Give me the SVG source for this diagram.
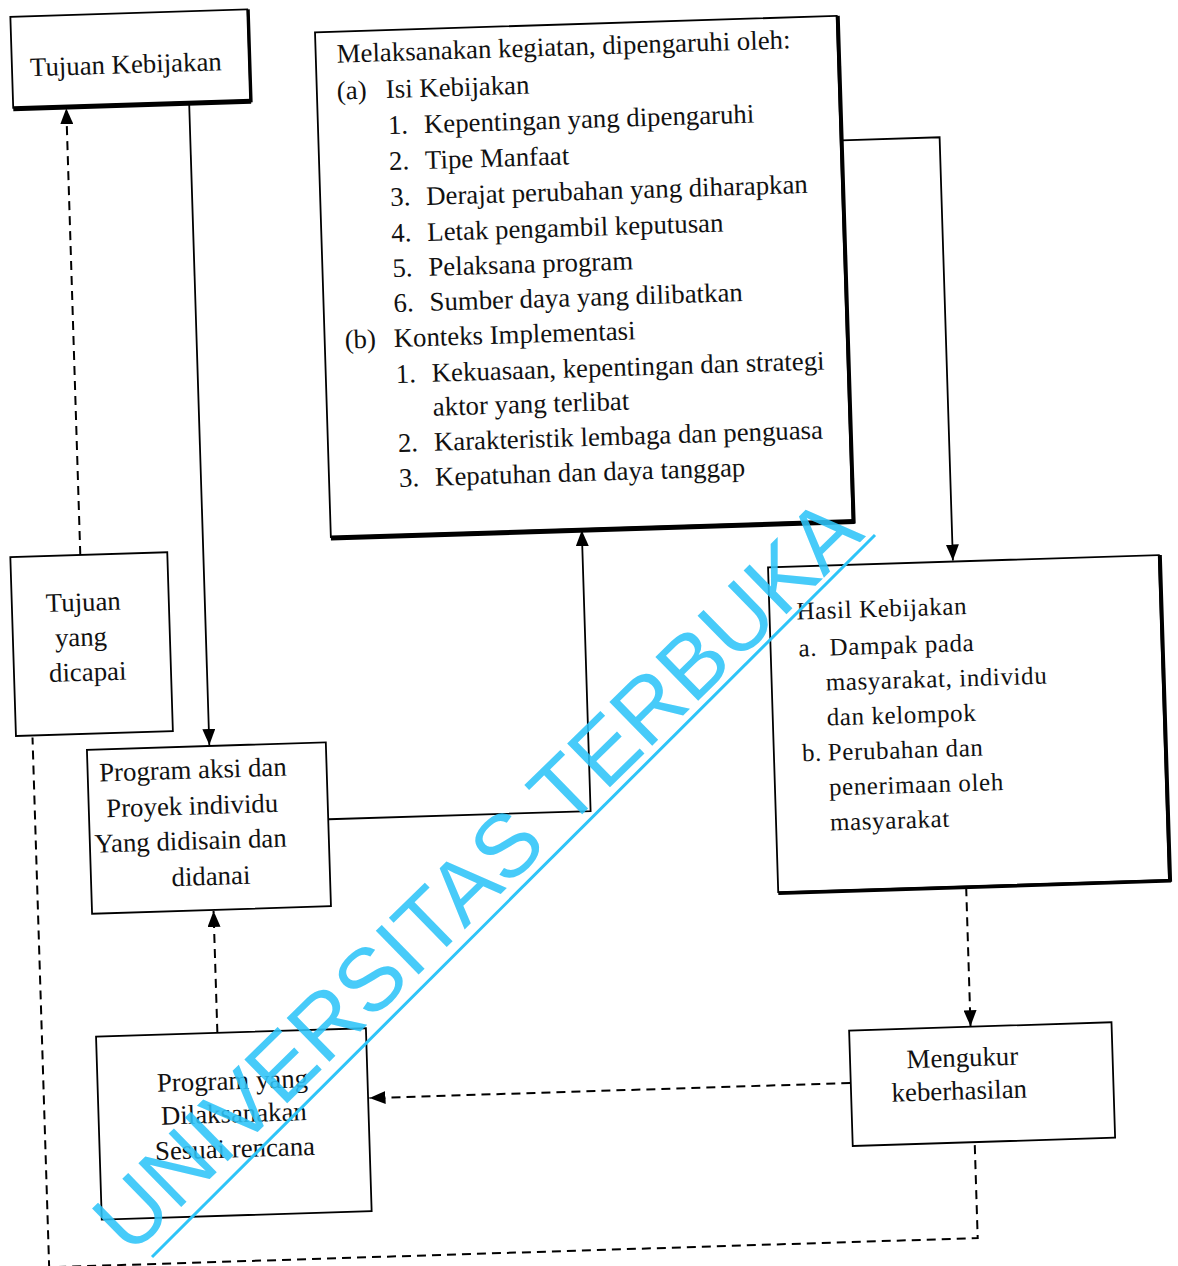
<svg xmlns="http://www.w3.org/2000/svg" width="1178" height="1266" viewBox="0 0 1178 1266">
<style>
.box{fill:#fff;stroke:#000;stroke-width:1.8}
.sh{stroke:#000;fill:none}
.t{font-family:"Liberation Serif","Times New Roman",serif;font-size:26.8px;fill:#111}
.th{font-family:"Liberation Serif","Times New Roman",serif;font-size:25px;fill:#111;letter-spacing:0.6px}
.c{fill:none;stroke:#000;stroke-width:1.8}
.d{fill:none;stroke:#000;stroke-width:2;stroke-dasharray:9 6}
.wm{font-family:"Liberation Sans",Arial,sans-serif;font-size:89px;fill:#2EC4F8;fill-opacity:0.88}
</style>
<defs>
<marker id="ah" markerUnits="userSpaceOnUse" markerWidth="16" markerHeight="13" refX="16" refY="6.5" orient="auto">
<path d="M0,0 L16,6.5 L0,13 z" fill="#000"/>
</marker>
</defs>
<rect width="1178" height="1266" fill="#fff"/>
<g transform="rotate(-1.8 589 633)">
<g id="connectors">
<line class="c" x1="206" y1="91" x2="206" y2="733" marker-end="url(#ah)"/>
<line class="d" x1="83" y1="539" x2="83" y2="92" marker-end="url(#ah)"/>
<polyline class="c" points="323,811 585,811 585,530" marker-end="url(#ah)"/>
<polyline class="c" points="857,148.5 955,148.5 955,572" marker-end="url(#ah)"/>
<line class="d" x1="958" y1="884" x2="958" y2="1038" marker-end="url(#ah)"/>
<line class="d" x1="836" y1="1091" x2="355" y2="1091" marker-end="url(#ah)"/>
<line class="d" x1="205" y1="1021" x2="205" y2="899" marker-end="url(#ah)"/>
<polyline class="d" points="958.5,1142 958.5,1250 29.5,1250 29.5,720"/>
</g>
<g id="n1">
<rect class="box" x="30" y="-1" width="237" height="91"/>
<line class="sh" x1="30" y1="91" x2="268" y2="91" stroke-width="5"/>
<line class="sh" x1="268" y1="-1" x2="268" y2="92" stroke-width="3"/>
<text class="t" x="48" y="59">Tujuan Kebijakan</text>
</g>
<g id="n2">
<rect class="box" x="334" y="24" width="522" height="505"/>
<line class="sh" x1="334" y1="530" x2="858" y2="530" stroke-width="5"/>
<line class="sh" x1="857" y1="24" x2="857" y2="532" stroke-width="4"/>
<text class="t" x="355" y="55">Melaksanakan kegiatan, dipengaruhi oleh:</text>
<text class="t" x="354" y="92">(a)</text><text class="t" x="403" y="92">Isi Kebijakan</text>
<text class="t" x="404" y="128">1.</text><text class="t" x="440" y="128">Kepentingan yang dipengaruhi</text>
<text class="t" x="404" y="164">2.</text><text class="t" x="440" y="164">Tipe Manfaat</text>
<text class="t" x="404" y="200">3.</text><text class="t" x="440" y="200">Derajat perubahan yang diharapkan</text>
<text class="t" x="404" y="236">4.</text><text class="t" x="440" y="236">Letak pengambil keputusan</text>
<text class="t" x="404" y="271">5.</text><text class="t" x="440" y="271">Pelaksana program</text>
<text class="t" x="404" y="306">6.</text><text class="t" x="440" y="306">Sumber daya yang dilibatkan</text>
<text class="t" x="354" y="341">(b)</text><text class="t" x="403" y="341">Konteks Implementasi</text>
<text class="t" x="404" y="377">1.</text><text class="t" x="440" y="377">Kekuasaan, kepentingan dan strategi</text>
<text class="t" x="440" y="411">aktor yang terlibat</text>
<text class="t" x="404" y="446">2.</text><text class="t" x="440" y="446">Karakteristik lembaga dan penguasa</text>
<text class="t" x="404" y="481">3.</text><text class="t" x="440" y="481">Kepatuhan dan daya tanggap</text>
</g>
<g id="n3">
<rect class="box" x="13" y="539" width="157" height="179"/>
<text class="t" x="47" y="595">Tujuan</text>
<text class="t" x="55" y="630">yang</text>
<text class="t" x="48" y="665">dicapai</text>
</g>
<g id="n4">
<rect class="box" x="83.5" y="734" width="239" height="164"/>
<text class="t" x="95" y="766">Program aksi dan</text>
<text class="t" x="101" y="802">Proyek individu</text>
<text class="t" x="88" y="837">Yang didisain dan</text>
<text class="t" x="164" y="873">didanai</text>
</g>
<g id="n5">
<rect class="box" x="770" y="573" width="391" height="325"/>
<line class="sh" x1="770" y1="899" x2="1163" y2="899" stroke-width="3.5"/>
<line class="sh" x1="1162" y1="573" x2="1162" y2="900" stroke-width="4"/>
<text class="th" x="797" y="626">Hasil Kebijakan</text>
<text class="th" x="798" y="663">a.</text><text class="th" x="829" y="663">Dampak pada</text>
<text class="th" x="824" y="698">masyarakat, individu</text>
<text class="th" x="824" y="733">dan kelompok</text>
<text class="th" x="798" y="768">b.</text><text class="th" x="824" y="768">Perubahan dan</text>
<text class="th" x="824" y="803">penerimaan oleh</text>
<text class="th" x="824" y="838">masyarakat</text>
</g>
<g id="n6">
<rect class="box" x="836.5" y="1038.5" width="262.5" height="115.5"/>
<text class="t" x="893" y="1078">Mengukur</text>
<text class="t" x="877" y="1111">keberhasilan</text>
</g>
<g id="n7">
<rect class="box" x="83.6" y="1021" width="270" height="183"/>
<text class="t" x="143" y="1078">Program yang</text>
<text class="t" x="146" y="1111">Dilaksanakan</text>
<text class="t" x="139" y="1146">Sesuai rencana</text>
</g>
</g>
<g id="watermark">
<text class="wm" transform="translate(130 1257) rotate(-44.4)">UNIVERSITAS TERBUKA</text>
<line x1="152" y1="1257" x2="875" y2="535" stroke="#2EC4F8" stroke-width="3"/>
</g>
</svg>
